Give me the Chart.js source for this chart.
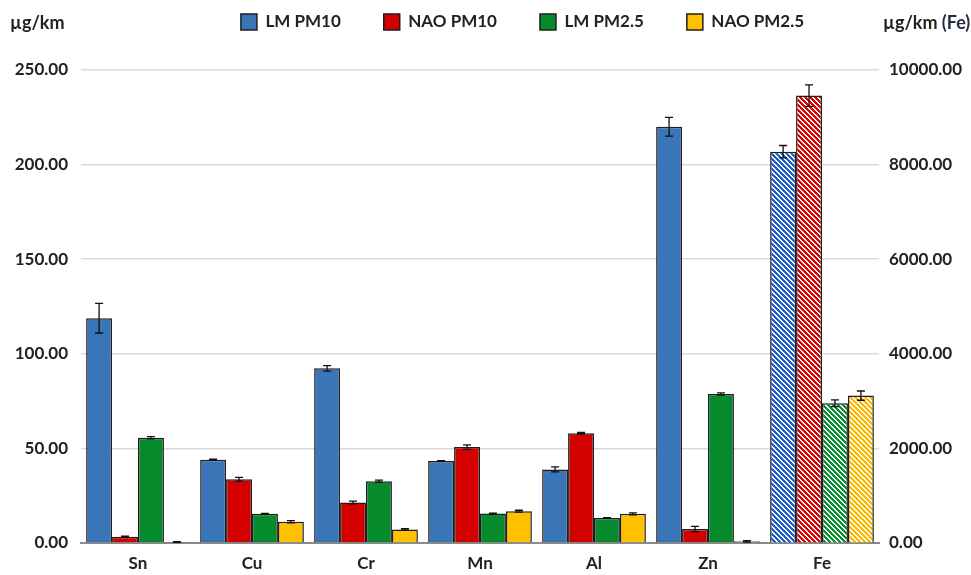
<!DOCTYPE html>
<html>
<head>
<meta charset="utf-8">
<script src="https://cdn.jsdelivr.net/npm/chart.js@4.4.0/dist/chart.umd.min.js"></script>
<style>
  html, body { margin: 0; padding: 0; background: #fff; }
  #wrap { position: relative; width: 971px; height: 575px; }
  #wrap canvas { position: absolute; left: 0; top: 0; }
  .unit { position: absolute; font-family: Lato, "Open Sans", sans-serif; font-weight: 700;
          color: #222; font-size: 18px; line-height: 20px; white-space: nowrap; }
</style>
</head>
<body>
<div id="wrap">
  <canvas id="chart" width="971" height="575"></canvas>
  <div class="unit" style="left:10px; top:12px;">µg/km</div>
  <div class="unit" style="left:883px; top:12px;">µg/km <span style="color:#262a4a;">(Fe)</span></div>
</div>
<script>
// Emission factors per element (µg/km); Fe is plotted on its own right-hand axis.
const elements = ['Sn', 'Cu', 'Cr', 'Mn', 'Al', 'Zn', 'Fe'];
const seriesNames = ['LM PM10', 'NAO PM10', 'LM PM2.5', 'NAO PM2.5'];

// Sn .. Zn, left axis
const lmPm10  = [118.8, 44.0, 92.3, 43.3, 38.9, 220.0];
const naoPm10 = [3.3, 33.7, 21.4, 50.7, 58.0, 7.4];
const lmPm25  = [55.6, 15.4, 32.6, 15.6, 13.2, 78.8];
const naoPm25 = [0.5, 11.2, 7.2, 16.8, 15.4, 0.9];

const lmPm10Err  = [7.8, 0.3, 1.5, 0.2, 1.3, 5.0];
const naoPm10Err = [0.3, 1.0, 0.7, 1.2, 0.4, 1.4];
const lmPm25Err  = [0.6, 0.2, 0.6, 0.2, 0.2, 0.6];
const naoPm25Err = [0.2, 0.6, 0.4, 0.5, 0.5, 0.4];

// Fe, right axis, in series order
const feValues = [8274, 9459, 2954, 3116];
const feErrors = [130, 227, 70, 98];

const leftTicks  = { min: 0, max: 250, step: 50 };
const rightTicks = { min: 0, max: 10000, step: 2000 };

const colors      = ['#3A75B8', '#D40000', '#058A2C', '#FFC000'];
const hatchColors = ['#1F5FCC', '#E00000', '#07902F', '#FFB800'];
const FONT = 'Lato, "Open Sans", sans-serif';

// Crisp diagonal white stripes (top-left to bottom-right) over a solid colour
function hatch(color) {
  const p = 5;
  const c = document.createElement('canvas');
  c.width = c.height = p;
  const g = c.getContext('2d');
  g.fillStyle = color;
  g.fillRect(0, 0, p, p);
  g.fillStyle = '#ffffff';
  for (let y = 0; y < p; y++) {
    for (let x = 0; x < p; x++) {
      if (((x - y) % p + p) % p < 2) g.fillRect(x, y, 1, 1);
    }
  }
  return g.createPattern(c, 'repeat');
}

const leftValues = [lmPm10, naoPm10, lmPm25, naoPm25];
const leftErrors = [lmPm10Err, naoPm10Err, lmPm25Err, naoPm25Err];

const datasets = [];
seriesNames.forEach((name, i) => {
  datasets.push({
    label: name,
    data: [...leftValues[i], null],
    errors: [...leftErrors[i], null],
    yAxisID: 'y',
    backgroundColor: colors[i],
    borderColor: '#1e1e1e',
    borderWidth: 1.5,
    skipNull: true,
    categoryPercentage: 0.91,
    barPercentage: 1.0
  });
});
seriesNames.forEach((name, i) => {
  datasets.push({
    label: name + ' (Fe)',
    data: [null, null, null, null, null, null, feValues[i]],
    errors: [null, null, null, null, null, null, feErrors[i]],
    yAxisID: 'y1',
    backgroundColor: hatch(hatchColors[i]),
    borderColor: '#1e1e1e',
    borderWidth: 1.5,
    skipNull: true,
    categoryPercentage: 0.91,
    barPercentage: 1.0
  });
});

// Whiskers for ± values, positioned through each bar's own scale
const errorBars = {
  id: 'errorBars',
  afterDatasetsDraw(chart) {
    const ctx = chart.ctx;
    ctx.save();
    ctx.strokeStyle = '#111';
    ctx.lineWidth = 1.3;
    chart.data.datasets.forEach((ds, i) => {
      const meta = chart.getDatasetMeta(i);
      const scale = chart.scales[ds.yAxisID];
      meta.data.forEach((bar, j) => {
        const v = ds.data[j], e = ds.errors[j];
        if (v == null || e == null) return;
        const x = bar.x;
        const yt = scale.getPixelForValue(v + e);
        const yb = scale.getPixelForValue(Math.max(0, v - e));
        const cap = 4;
        ctx.beginPath();
        ctx.moveTo(x, yt); ctx.lineTo(x, yb);
        ctx.moveTo(x - cap, yt); ctx.lineTo(x + cap, yt);
        ctx.moveTo(x - cap, yb); ctx.lineTo(x + cap, yb);
        ctx.stroke();
      });
    });
    ctx.restore();
  }
};

// Place the legend row at the top, centred over the bars
const legendPlace = {
  id: 'legendPlace',
  afterLayout(chart) {
    const lg = chart.legend;
    if (!lg) return;
    const pad = lg.options.labels.padding;
    const ih = Math.max(lg.options.labels.boxHeight, 17);
    const dy = 22 - (lg.top + pad + ih / 2);
    const dx = 522.5 - (lg.left + lg.right) / 2;
    lg.left += dx; lg.right += dx;
    lg.top += dy; lg.bottom += dy;
  }
};

new Chart(document.getElementById('chart'), {
  type: 'bar',
  data: { labels: elements, datasets },
  plugins: [errorBars, legendPlace],
  options: {
    responsive: false,
    animation: false,
    devicePixelRatio: 1,
    layout: { padding: { top: 0, left: 0, right: 0, bottom: 0 } },
    plugins: {
      tooltip: { enabled: false },
      legend: {
        position: 'top',
        labels: {
          filter: (item) => item.datasetIndex < 4,
          boxWidth: 16,
          boxHeight: 16,
          padding: 43,
          color: '#222',
          font: { family: FONT, size: 17, weight: '700' }
        }
      }
    },
    scales: {
      x: {
        grid: { display: false, drawTicks: false },
        border: { display: true, color: '#8a8a8a', width: 2 },
        ticks: { color: '#222', padding: 10, font: { family: FONT, size: 17, weight: '700' } },
        afterFit(s) { s.height = 32; }
      },
      y: {
        position: 'left',
        min: leftTicks.min, max: leftTicks.max,
        grid: { color: '#d9d9d9', lineWidth: 1.5, drawTicks: false },
        border: { display: false },
        ticks: {
          stepSize: leftTicks.step, padding: 13, color: '#222',
          font: { family: FONT, size: 17, weight: '700' },
          callback: (v) => Number(v).toFixed(2)
        },
        afterFit(s) { s.width = 81; }
      },
      y1: {
        position: 'right',
        min: rightTicks.min, max: rightTicks.max,
        grid: { drawOnChartArea: false, drawTicks: false },
        border: { display: false },
        ticks: {
          stepSize: rightTicks.step, padding: 10, color: '#222',
          font: { family: FONT, size: 17, weight: '700' },
          callback: (v) => Number(v).toFixed(2)
        },
        afterFit(s) { s.width = 92; }
      }
    }
  }
});
</script>
</body>
</html>
